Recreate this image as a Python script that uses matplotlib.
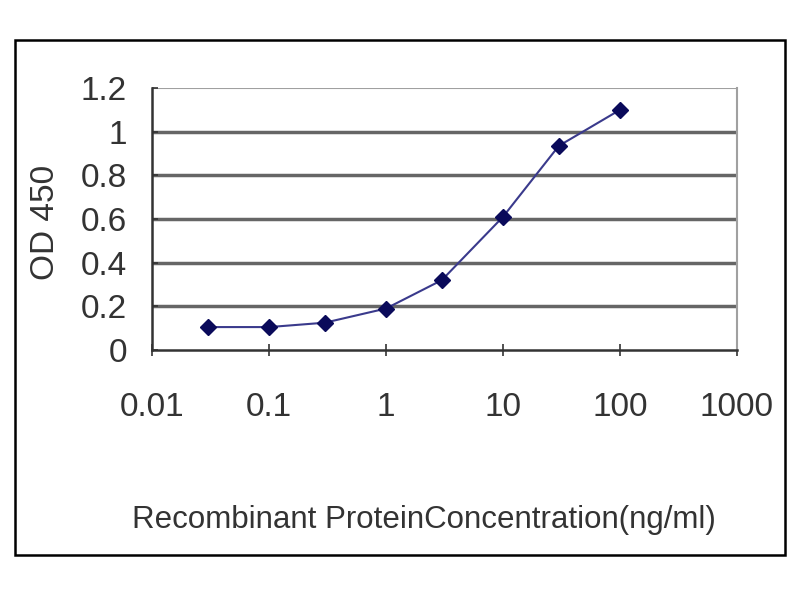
import matplotlib
matplotlib.use("Agg")
import matplotlib.pyplot as plt
from matplotlib.patches import Rectangle

concentration = [0.03, 0.1, 0.3, 1, 3, 10, 30, 100]
od450 = [0.105, 0.105, 0.125, 0.19, 0.32, 0.61, 0.935, 1.10]
yticks = [0, 0.2, 0.4, 0.6, 0.8, 1, 1.2]
ytick_labels = ["0", "0.2", "0.4", "0.6", "0.8", "1", "1.2"]
xticks = [0.01, 0.1, 1, 10, 100, 1000]
xtick_labels = ["0.01", "0.1", "1", "10", "100", "1000"]

plt.rcParams['font.family'] = ['Liberation Sans', 'DejaVu Sans']

fig = plt.figure(figsize=(8, 6), dpi=100)
fig.patch.set_facecolor("white")
fig.add_artist(Rectangle((15/800, 1-555/600), 770/800, 515/600, transform=fig.transFigure,
                         fill=False, edgecolor="black", linewidth=1.8))

ax = fig.add_axes([152/800, 1-350/600, (737-152)/800, (350-88)/600])
ax.set_xscale("log")
ax.set_xlim(0.01, 1000)
ax.set_ylim(0, 1.2)

for y in yticks[1:-1]:
    ax.axhline(y, color="#666666", linewidth=2.5, zorder=1)
ax.axhline(1.2, color="#a0a0a0", linewidth=1.5, zorder=1)

ax.plot(concentration, od450, color="#3a3a8c", linewidth=1.5, marker="D",
        markersize=8, markerfacecolor="#0a0a5a", markeredgecolor="#0a0a5a", zorder=3)

ax.set_yticks(yticks)
ax.set_yticklabels(ytick_labels)
ax.set_xticks(xticks)
ax.set_xticklabels(xtick_labels)
ax.minorticks_off()
ax.tick_params(axis="y", direction="in", length=4, width=1.2, pad=18, labelsize=24, colors="#333333")
ax.tick_params(axis="x", direction="inout", length=8, width=1.2, pad=26, labelsize=24, colors="#333333")

for s in ["left", "bottom"]:
    ax.spines[s].set_color("#333333")
    ax.spines[s].set_linewidth(1.8)
ax.spines["right"].set_color("#a0a0a0")
ax.spines["right"].set_linewidth(1.5)
ax.spines["top"].set_visible(False)

fig.text(424/800, 1-520/600, "Recombinant ProteinConcentration(ng/ml)", ha="center", va="center",
         fontsize=22.5, color="#333333")
fig.text(45/800, 1-222/600, "OD 450", rotation=90, ha="center", va="center",
         fontsize=24, color="#333333")

fig.savefig("out.png", dpi=100, facecolor="white")
